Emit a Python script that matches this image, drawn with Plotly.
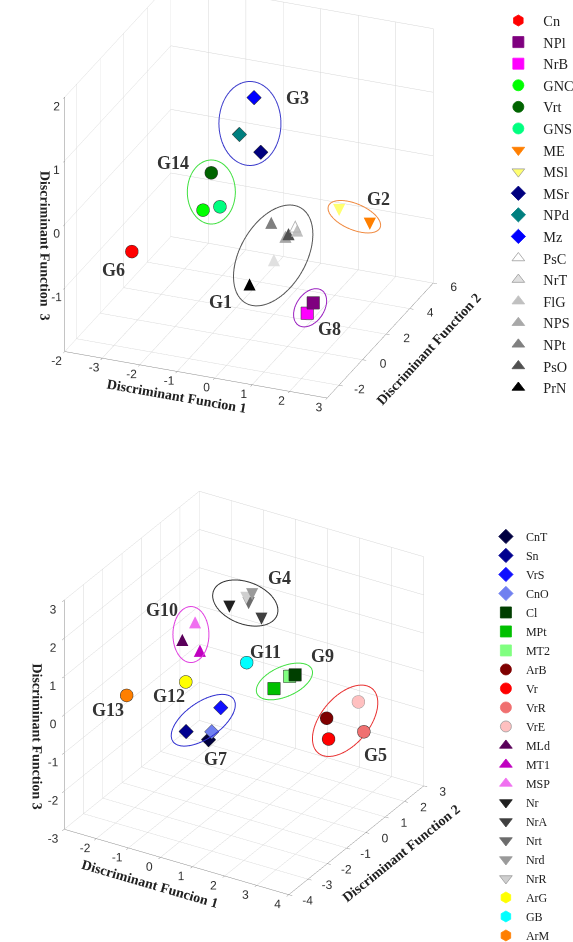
import numpy as np
import plotly.graph_objects as go

# ---------------- data: top chart ----------------
names_a = ["Cn", "NPl", "NrB", "GNC", "Vrt", "GNS", "ME", "MSl", "MSr", "NPd", "Mz",
           "PsC", "NrT", "FlG", "NPS", "NPt", "PsO", "PrN"]
df1_a = [-3.63, 1.21, 1.05, -1.73, -1.51, -1.28, 2.72, 1.90, -0.19, -0.76, -0.37,
         0.73, 0.16, 0.78, 0.47, 0.09, 0.55, -0.49]
df2_a = [1.5, 1.5, 1.5, 1.5, 1.5, 1.5, 1.5, 1.5, 1.5, 1.5, 1.5,
         1.5, 1.5, 1.5, 1.5, 1.5, 1.5, 1.5]
df3_a = [-1.29, -1.59, -1.77, -0.44, 0.17, -0.34, -0.19, -0.06, 0.63, 0.85, 1.47,
         -0.44, -1.03, -0.50, -0.63, -0.45, -0.58, -1.48]
groups_a = ["G3", "G14", "G2", "G6", "G1", "G8"]
members_a = [["MSr", "NPd", "Mz"], ["GNC", "Vrt", "GNS"], ["ME", "MSl"], ["Cn"],
             ["PsC", "NrT", "FlG", "NPS", "NPt", "PsO", "PrN"], ["NPl", "NrB"]]
xticks_a = [-3, -2, -1, 0, 1, 2, 3]
yticks_a = [-2, 0, 2, 4, 6]
zticks_a = [-2, -1, 0, 1, 2]

# ---------------- data: bottom chart ----------------
names_b = ["CnT", "Sn", "VrS", "CnO", "Cl", "MPt", "MT2", "ArB", "Vr", "VrR", "VrE",
           "MLd", "MT1", "MSP", "Nr", "NrA", "Nrt", "Nrd", "NrR", "ArG", "GB", "ArM"]
df1_b = [-0.61, -1.31, -0.23, -0.51, 2.09, 1.43, 1.92, 1.81, 1.87, 2.97, 2.80,
         -1.43, -0.88, -1.03, 0.04, 1.04, 0.64, 0.75, 0.57, -1.32, 0.58, -1.90]
df2_b = [-0.5, -0.5, -0.5, -0.5, -0.5, -0.5, -0.5, 1.6, 1.6, 1.6, 1.6,
         -0.5, -0.5, -0.5, -0.5, -0.5, -0.5, -0.5, -0.5, -0.5, -0.5, -2.6]
df3_b = [-1.49, -1.45, -0.56, -1.26, 0.87, 0.35, 0.79, -1.19, -1.72, -1.26, -0.52,
         0.92, 0.77, 1.48, 2.15, 2.08, 2.39, 2.65, 2.51, -0.15, 0.82, 0.21]
groups_b = ["G4", "G10", "G11", "G9", "G12", "G13", "G7", "G5"]
members_b = [["Nr", "NrA", "Nrt", "Nrd", "NrR"], ["MLd", "MT1", "MSP"], ["GB"],
             ["Cl", "MPt", "MT2"], ["ArG"], ["ArM"], ["CnT", "Sn", "VrS", "CnO"],
             ["ArB", "Vr", "VrR", "VrE"]]
xticks_b = [-2, -1, 0, 1, 2, 3, 4]
yticks_b = [-4, -3, -2, -1, 0, 1, 2, 3]
zticks_b = [-3, -2, -1, 0, 1, 2, 3]

# ---------------- styles ----------------
sym_a = ["hexagon", "square", "square", "circle", "circle", "circle", "triangle-down",
         "triangle-down", "diamond", "diamond", "diamond", "triangle-up", "triangle-up",
         "triangle-up", "triangle-up", "triangle-up", "triangle-up", "triangle-up"]
col_a = ["#ff0000", "#7f007f", "#ff00ff", "#00ff00", "#006400", "#00ff80", "#ff7f00",
         "#ffff70", "#00007f", "#007f7f", "#0000ff", "#ffffff", "#e0e0e0", "#c0c0c0",
         "#a8a8a8", "#808080", "#505050", "#000000"]
sym_b = ["diamond", "diamond", "diamond", "diamond", "square", "square", "square",
         "circle", "circle", "circle", "circle", "triangle-up", "triangle-up", "triangle-up",
         "triangle-down", "triangle-down", "triangle-down", "triangle-down", "triangle-down",
         "hexagon", "hexagon", "hexagon"]
col_b = ["#000040", "#00008f", "#1010ff", "#7080f0", "#003f00", "#00c000", "#80ff80",
         "#7f0000", "#ff0000", "#f07070", "#ffc0c0", "#5a005a", "#c000c0", "#f070f0",
         "#202020", "#404040", "#6c6c6c", "#9a9a9a", "#cfcfcf", "#ffff00", "#00ffff",
         "#ff7f00"]

ell_a = {"G3": (31, 42, 0, "#3c3ccc"), "G14": (24, 32, 0, "#40e040"),
         "G2": (28, 13, -23, "#f08a40"), "G1": (55, 33, 60, "#555555"),
         "G8": (21, 14, 56, "#9a20c0")}
ell_b = {"G4": (34, 21, -21, "#333333"), "G10": (18, 28, 0, "#e040e0"),
         "G9": (30, 15, 24, "#40e040"), "G5": (42, 24, 50, "#e83030"),
         "G7": (37, 18, 35, "#3030d0")}
shift_a = {"G3": (48, 25), "G14": (-38, 29), "G2": (24, 18), "G6": (-18, -19),
           "G1": (-53, -47), "G8": (19, -21)}
shift_b = {"G4": (34, 25), "G10": (-29, 25), "G11": (19, 10), "G9": (38, 25),
           "G12": (-17, -14), "G13": (-19, -15), "G7": (12, -39), "G5": (30, -34)}

range_a = [[-4, 3], [-3, 6], [-2, 2]]
range_b = [[-3, 4], [-4, 3], [-3, 3]]
eye_dir_a = np.array([0.337, -0.833, 0.438])
eye_dir_b = np.array([0.451, -0.750, 0.485])
zoom_a, zoom_b = 1.272, 1.122
center_z_a, center_z_b = -0.162, -0.076
px_edge_a, px_edge_b = 283.0, 262.0

SERIF = "Liberation Serif"
SANS = "Liberation Sans"
LIGHT = ("#ffffff", "#e0e0e0", "#ffff70", "#cfcfcf", "#ffc0c0")
SIZE3D = {"circle": 7.5, "hexagon": 7.5, "square": 6.5, "diamond": 4.8}

fig = go.Figure()


def outline(c):
    return "#9a9a9a" if c.lower() in LIGHT else "#303030"


def add_points(names, xs, ys, zs, syms, cols, scene, legend):
    for n, x, y, z, s, c in zip(names, xs, ys, zs, syms, cols):
        if s.startswith("triangle"):
            glyph = "\u25B2" if s == "triangle-up" else "\u25BC"
            tcol = c
            if c.lower() == "#ffffff":
                glyph = "\u25B3"
                tcol = "#b0b0b0"
            fig.add_trace(go.Scatter3d(x=[x], y=[y], z=[z], mode="text", text=[glyph],
                                       textposition="middle center",
                                       textfont=dict(family="DejaVu Sans", size=16, color=tcol),
                                       scene=scene, showlegend=False, hoverinfo="skip"))
        else:
            s3 = "circle" if s == "hexagon" else s
            fig.add_trace(go.Scatter3d(x=[x], y=[y], z=[z], mode="markers",
                                       marker=dict(symbol=s3, size=SIZE3D[s], color=c,
                                                   line=dict(color=outline(c), width=1)),
                                       scene=scene, showlegend=False, hoverinfo="skip"))
        # legend entry
        fig.add_trace(go.Scatter(x=[None], y=[None], mode="markers", name=n,
                                 marker=dict(symbol=s, size=11, color=c,
                                             line=dict(color=outline(c) if c.lower() in LIGHT else c,
                                                       width=0.8)),
                                 legend=legend, xaxis="x", yaxis="y", hoverinfo="skip"))


def group_center(names, xs, ys, zs, members):
    idx = [names.index(m) for m in members]
    pts = np.array([[xs[i], ys[i], zs[i]] for i in idx])
    return (pts.min(axis=0) + pts.max(axis=0)) / 2.0


def ellipse(center, a, b, ang, eye_dir, ranges, px_edge):
    e = eye_dir / np.linalg.norm(eye_dir)
    r = np.cross([0, 0, 1.0], e)
    r /= np.linalg.norm(r)
    u = np.cross(e, r)
    t = np.linspace(0, 2 * np.pi, 140)
    ca, sa = np.cos(np.radians(ang)), np.sin(np.radians(ang))
    sx = a * np.cos(t) * ca - b * np.sin(t) * sa
    sy = a * np.cos(t) * sa + b * np.sin(t) * ca
    n = (np.outer(sx, r) + np.outer(sy, u)) / px_edge
    span = np.array([hi - lo for lo, hi in ranges])
    return center + n * span


def add_groups(names, xs, ys, zs, groups, members, ells, shifts, eye_dir, ranges, px_edge, scene):
    annots = []
    for g, mem in zip(groups, members):
        c = group_center(names, xs, ys, zs, mem)
        if g in ells:
            a, b, ang, col = ells[g]
            p = ellipse(c, a, b, ang, eye_dir, ranges, px_edge)
            fig.add_trace(go.Scatter3d(x=p[:, 0], y=p[:, 1], z=p[:, 2], mode="lines",
                                       line=dict(color=col, width=2), scene=scene,
                                       showlegend=False, hoverinfo="skip"))
        dx, dy = shifts[g]
        annots.append(dict(x=c[0], y=c[1], z=c[2], text="<b>%s</b>" % g, showarrow=False,
                           xshift=dx, yshift=dy,
                           font=dict(family=SERIF, size=18, color="#333333")))
    return annots


add_points(names_a, df1_a, df2_a, df3_a, sym_a, col_a, "scene", "legend")
ann_a = add_groups(names_a, df1_a, df2_a, df3_a, groups_a, members_a, ell_a, shift_a,
                   eye_dir_a, range_a, px_edge_a, "scene")
add_points(names_b, df1_b, df2_b, df3_b, sym_b, col_b, "scene2", "legend2")
ann_b = add_groups(names_b, df1_b, df2_b, df3_b, groups_b, members_b, ell_b, shift_b,
                   eye_dir_b, range_b, px_edge_b, "scene2")


def axis(title, rng, ticks):
    return dict(title=dict(text=title, font=dict(family=SERIF, size=14, color="#222222",
                                                 weight="bold")),
                range=rng, tickvals=ticks, ticktext=[str(t) for t in ticks],
                tickfont=dict(family=SANS, size=12, color="#333333"), tickangle=0,
                showgrid=True, gridcolor="#d6d6d6", gridwidth=1,
                showline=True, linecolor="#8a8a8a", linewidth=1,
                ticks="outside", ticklen=4, tickcolor="#8a8a8a",
                zeroline=False, showspikes=False, showbackground=False,
                autorange=False)


def scene(dom_x, dom_y, ranges, ticks, titles, eye_dir, zoom, cz, annots):
    eye = eye_dir / np.linalg.norm(eye_dir) * 2.0
    return dict(domain=dict(x=dom_x, y=dom_y),
                xaxis=axis(titles[0], ranges[0], ticks[0]),
                yaxis=axis(titles[1], ranges[1], ticks[1]),
                zaxis=axis(titles[2], ranges[2], ticks[2]),
                aspectmode="manual", aspectratio=dict(x=zoom, y=zoom, z=zoom),
                camera=dict(eye=dict(x=eye[0], y=eye[1], z=eye[2] + cz),
                            up=dict(x=0, y=0, z=1), center=dict(x=0, y=0, z=cz),
                            projection=dict(type="orthographic")),
                bgcolor="white", annotations=annots, dragmode=False)


fig.update_layout(
    width=573, height=942, margin=dict(l=0, r=0, t=0, b=0, autoexpand=False),
    paper_bgcolor="white", plot_bgcolor="white", hovermode=False,
    scene=scene([0.0, 0.869], [0.5276, 1.0], range_a, [xticks_a, yticks_a, zticks_a],
                ["Discriminant Funcion 1", "Discriminant Function 2", "Discriminant Function  3"],
                eye_dir_a, zoom_a, center_z_a, ann_a),
    scene2=scene([0.0, 0.852], [0.0, 0.4958], range_b, [xticks_b, yticks_b, zticks_b],
                 ["Discriminant Funcion 1", "Discriminant Function 2", "Discriminant Function 3"],
                 eye_dir_b, zoom_b, center_z_b, ann_b),
    xaxis=dict(visible=False, domain=[0.995, 1.0]),
    yaxis=dict(visible=False, domain=[0.995, 1.0]),
    legend=dict(x=0.861, y=0.995, xanchor="left", yanchor="top", itemwidth=40,
                font=dict(family=SERIF, size=14.3, color="#222222"),
                bgcolor="rgba(0,0,0,0)", tracegroupgap=0),
    legend2=dict(x=0.848, y=0.4459, xanchor="left", yanchor="top", itemwidth=30,
                 font=dict(family=SERIF, size=12, color="#222222"),
                 bgcolor="rgba(0,0,0,0)", tracegroupgap=0),
)

fig.write_html("out.html")
